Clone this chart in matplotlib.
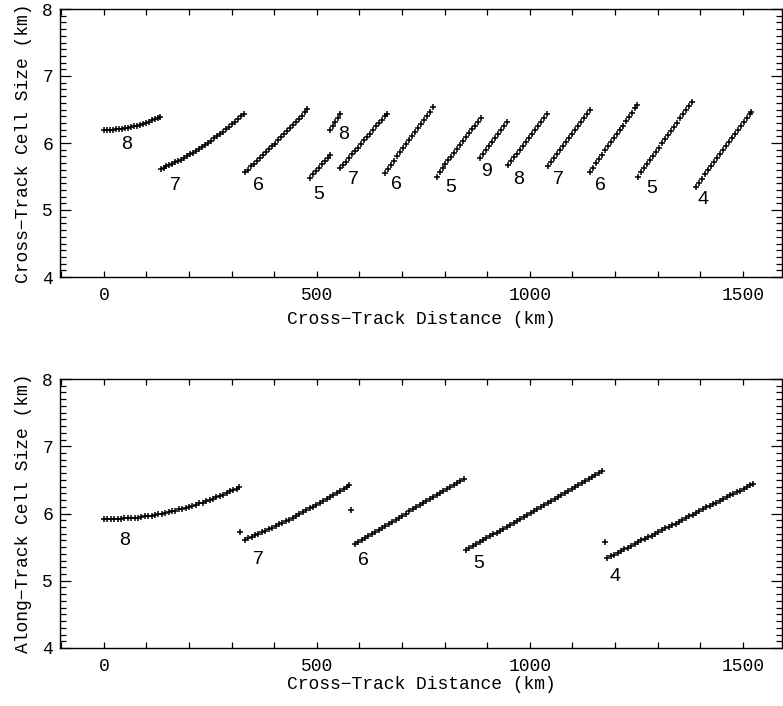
import matplotlib
matplotlib.use("Agg")
import matplotlib.pyplot as plt
from matplotlib.ticker import MultipleLocator

# ---- top panel: cross-track cell size, one segment per beam group ----
t8a_x = [0, 7, 14, 21, 28, 35, 42, 49, 56, 63, 70, 77, 84, 91, 98, 105, 112, 119, 126, 131]
t8a_y = [6.20, 6.20, 6.20, 6.20, 6.21, 6.21, 6.21, 6.22, 6.23, 6.24, 6.25, 6.26, 6.27, 6.29,
         6.30, 6.32, 6.34, 6.36, 6.38, 6.39]
t7a_x = [133, 140, 147, 154, 161, 168, 175, 182, 189, 196, 203, 210, 217, 224, 231, 238, 245,
         252, 259, 266, 273, 280, 287, 294, 301, 308, 315, 322, 329]
t7a_y = [5.61, 5.63, 5.65, 5.67, 5.69, 5.71, 5.73, 5.75, 5.78, 5.80, 5.83, 5.85, 5.88, 5.91,
         5.94, 5.97, 6.00, 6.03, 6.07, 6.10, 6.13, 6.17, 6.21, 6.24, 6.28, 6.32, 6.36, 6.40, 6.44]
t6a_x = [331, 338, 345, 352, 359, 366, 373, 380, 387, 394, 401, 408, 415, 422, 429, 436, 443,
         450, 457, 464, 471, 478]
t6a_y = [5.56, 5.60, 5.65, 5.69, 5.73, 5.77, 5.82, 5.86, 5.91, 5.95, 5.99, 6.04, 6.09, 6.13,
         6.18, 6.22, 6.27, 6.32, 6.36, 6.41, 6.46, 6.51]
t5a_x = [484, 491, 498, 505, 512, 519, 526, 532]
t5a_y = [5.48, 5.53, 5.58, 5.63, 5.68, 5.73, 5.78, 5.82]
t8b_x = [531, 537, 543, 549, 554]
t8b_y = [6.19, 6.25, 6.31, 6.37, 6.43]
t7b_x = [554, 561, 568, 575, 582, 589, 596, 603, 610, 617, 624, 631, 638, 645, 652, 659, 664]
t7b_y = [5.62, 5.67, 5.72, 5.78, 5.83, 5.88, 5.93, 5.99, 6.04, 6.09, 6.14, 6.19, 6.25, 6.30,
         6.35, 6.40, 6.44]
t6b_x = [660, 667, 674, 681, 688, 695, 702, 709, 716, 723, 730, 737, 744, 751, 758, 765, 772]
t6b_y = [5.55, 5.61, 5.67, 5.73, 5.80, 5.86, 5.92, 5.98, 6.04, 6.10, 6.16, 6.22, 6.29, 6.35,
         6.41, 6.47, 6.53]
t5b_x = [781, 788, 795, 802, 809, 816, 823, 830, 837, 844, 851, 858, 865, 872, 879, 886]
t5b_y = [5.50, 5.56, 5.62, 5.68, 5.74, 5.79, 5.85, 5.91, 5.97, 6.03, 6.09, 6.15, 6.21, 6.26,
         6.32, 6.38]
t9_x = [883, 890, 897, 904, 911, 918, 925, 932, 939, 946]
t9_y = [5.77, 5.83, 5.89, 5.95, 6.01, 6.07, 6.13, 6.19, 6.25, 6.31]
t8c_x = [949, 956, 963, 970, 977, 984, 991, 998, 1005, 1012, 1019, 1026, 1033, 1040]
t8c_y = [5.67, 5.73, 5.79, 5.84, 5.90, 5.96, 6.02, 6.08, 6.14, 6.20, 6.25, 6.31, 6.37, 6.43]
t7c_x = [1043, 1050, 1057, 1064, 1071, 1078, 1085, 1092, 1099, 1106, 1113, 1120, 1127, 1134, 1141]
t7c_y = [5.65, 5.71, 5.77, 5.83, 5.89, 5.95, 6.01, 6.07, 6.13, 6.19, 6.25, 6.31, 6.37, 6.43, 6.49]
t6c_x = [1141, 1148, 1155, 1162, 1169, 1176, 1183, 1190, 1197, 1204, 1211, 1218, 1225, 1232,
         1239, 1246, 1252]
t6c_y = [5.57, 5.63, 5.70, 5.76, 5.82, 5.89, 5.95, 6.01, 6.07, 6.14, 6.20, 6.26, 6.33, 6.39,
         6.45, 6.52, 6.57]
t5c_x = [1254, 1261, 1268, 1275, 1282, 1289, 1296, 1303, 1310, 1317, 1324, 1331, 1338, 1345,
         1352, 1359, 1366, 1373, 1380]
t5c_y = [5.50, 5.56, 5.62, 5.69, 5.75, 5.81, 5.87, 5.93, 6.00, 6.06, 6.12, 6.18, 6.24, 6.30,
         6.37, 6.43, 6.49, 6.55, 6.61]
t4_x = [1390, 1397, 1404, 1411, 1418, 1425, 1432, 1439, 1446, 1453, 1460, 1467, 1474, 1481,
        1488, 1495, 1502, 1509, 1516, 1520]
t4_y = [5.35, 5.41, 5.47, 5.53, 5.59, 5.65, 5.71, 5.77, 5.83, 5.89, 5.95, 6.01, 6.07, 6.13,
        6.19, 6.25, 6.31, 6.38, 6.44, 6.47]

top_labels = ["8", "7", "6", "5", "8", "7", "6", "5", "9", "8", "7", "6", "5", "4"]
top_lab_x = [54, 167, 364, 505, 562, 585, 688, 813, 899, 974, 1067, 1166, 1285, 1407]
top_lab_y = [5.98, 5.37, 5.36, 5.23, 6.13, 5.46, 5.38, 5.33, 5.58, 5.45, 5.46, 5.36, 5.32, 5.15]

# ---- bottom panel: along-track cell size ----
b8_x = [0, 8, 16, 24, 32, 40, 48, 56, 64, 72, 80, 88, 96, 104, 112, 120, 128, 136, 144, 152,
        160, 168, 176, 184, 192, 200, 208, 216, 224, 232, 240, 248, 256, 264, 272, 280, 288,
        296, 304, 312, 318]
b8_y = [5.92, 5.92, 5.92, 5.92, 5.92, 5.92, 5.93, 5.93, 5.93, 5.94, 5.94, 5.95, 5.96, 5.96,
        5.97, 5.98, 5.99, 6.00, 6.01, 6.02, 6.03, 6.04, 6.06, 6.07, 6.08, 6.10, 6.11, 6.13,
        6.15, 6.16, 6.18, 6.20, 6.22, 6.24, 6.26, 6.28, 6.30, 6.33, 6.35, 6.37, 6.39]
b7_x = [331, 339, 347, 355, 363, 371, 379, 387, 395, 403, 411, 419, 427, 435, 443, 451, 459,
        467, 475, 483, 491, 499, 507, 515, 523, 531, 539, 547, 555, 563, 571, 576]
b7_y = [5.61, 5.63, 5.65, 5.68, 5.70, 5.72, 5.74, 5.77, 5.79, 5.81, 5.84, 5.86, 5.89, 5.91,
        5.94, 5.97, 5.99, 6.02, 6.05, 6.08, 6.10, 6.13, 6.16, 6.19, 6.22, 6.25, 6.28, 6.31,
        6.34, 6.37, 6.40, 6.42]
b6_x = [589, 597, 605, 613, 621, 629, 637, 645, 653, 661, 669, 677, 685, 693, 701, 709, 717,
        725, 733, 741, 749, 757, 765, 773, 781, 789, 797, 805, 813, 821, 829, 837, 845]
b6_y = [5.55, 5.58, 5.61, 5.64, 5.67, 5.70, 5.73, 5.76, 5.79, 5.82, 5.85, 5.88, 5.91, 5.94,
        5.97, 6.00, 6.03, 6.06, 6.09, 6.12, 6.15, 6.18, 6.21, 6.24, 6.27, 6.30, 6.33, 6.36,
        6.39, 6.42, 6.45, 6.48, 6.51]
b5_x = [850, 858, 866, 874, 882, 890, 898, 906, 914, 922, 930, 938, 946, 954, 962, 970, 978,
        986, 994, 1002, 1010, 1018, 1026, 1034, 1042, 1050, 1058, 1066, 1074, 1082, 1090, 1098,
        1106, 1114, 1122, 1130, 1138, 1146, 1154, 1162, 1170]
b5_y = [5.45, 5.48, 5.51, 5.54, 5.57, 5.60, 5.63, 5.66, 5.69, 5.71, 5.74, 5.77, 5.80, 5.83,
        5.86, 5.89, 5.92, 5.95, 5.98, 6.01, 6.04, 6.07, 6.10, 6.13, 6.16, 6.18, 6.21, 6.24,
        6.27, 6.30, 6.33, 6.36, 6.39, 6.42, 6.45, 6.48, 6.51, 6.54, 6.57, 6.60, 6.63]
b4_x = [1182, 1190, 1198, 1206, 1214, 1222, 1230, 1238, 1246, 1254, 1262, 1270, 1278, 1286,
        1294, 1302, 1310, 1318, 1326, 1334, 1342, 1350, 1358, 1366, 1374, 1382, 1390, 1398,
        1406, 1414, 1422, 1430, 1438, 1446, 1454, 1462, 1470, 1478, 1486, 1494, 1502, 1510,
        1518, 1524]
b4_y = [5.34, 5.37, 5.39, 5.42, 5.44, 5.47, 5.49, 5.52, 5.55, 5.57, 5.60, 5.62, 5.65, 5.67,
        5.70, 5.73, 5.75, 5.78, 5.80, 5.83, 5.85, 5.88, 5.91, 5.93, 5.96, 5.98, 6.01, 6.03,
        6.06, 6.09, 6.11, 6.14, 6.16, 6.19, 6.21, 6.24, 6.27, 6.29, 6.32, 6.34, 6.37, 6.39,
        6.42, 6.44]
odd_x = [319, 581, 1176]
odd_y = [5.72, 6.05, 5.57]

bot_labels = ["8", "7", "6", "5", "4"]
bot_lab_x = [49, 362, 609, 881, 1200]
bot_lab_y = [5.60, 5.32, 5.30, 5.25, 5.07]

top_segs = [(t8a_x, t8a_y), (t7a_x, t7a_y), (t6a_x, t6a_y), (t5a_x, t5a_y), (t8b_x, t8b_y),
            (t7b_x, t7b_y), (t6b_x, t6b_y), (t5b_x, t5b_y), (t9_x, t9_y), (t8c_x, t8c_y),
            (t7c_x, t7c_y), (t6c_x, t6c_y), (t5c_x, t5c_y), (t4_x, t4_y)]
bot_segs = [(b8_x, b8_y), (b7_x, b7_y), (b6_x, b6_y), (b5_x, b5_y), (b4_x, b4_y), (odd_x, odd_y)]

axfont = ["Liberation Mono", "DejaVu Sans Mono"]
numfont = "Liberation Sans"

fig = plt.figure(figsize=(7.83, 7.06), dpi=100)
ax1 = fig.add_axes([60 / 783, 1 - 277 / 706, 722 / 783, 268 / 706])
ax2 = fig.add_axes([60 / 783, 1 - 648 / 706, 722 / 783, 269 / 706])


def style(ax, ylabel, xlab_y):
    ax.set_xlim(-103, 1592)
    ax.set_ylim(4, 8)
    ax.xaxis.set_major_locator(MultipleLocator(500))
    ax.xaxis.set_minor_locator(MultipleLocator(100))
    ax.yaxis.set_major_locator(MultipleLocator(1))
    ax.yaxis.set_minor_locator(MultipleLocator(0.1))
    ax.tick_params(which="both", direction="in", top=True, right=True, width=0.9)
    ax.tick_params(axis="x", which="both", length=4, pad=7)
    ax.tick_params(axis="y", which="major", length=8, pad=5)
    ax.tick_params(axis="y", which="minor", length=4)
    for lab in ax.get_xticklabels() + ax.get_yticklabels():
        lab.set_family(axfont)
        lab.set_fontsize(13)
    for s in ax.spines.values():
        s.set_linewidth(1.0)
    ax.set_xlabel("Cross\u2212Track Distance (km)", family=axfont, fontsize=13, va="center")
    ax.xaxis.set_label_coords(0.5, xlab_y)
    ax.set_ylabel(ylabel, family=axfont, fontsize=13, va="center")
    ax.yaxis.set_label_coords(-0.051, 0.5)


for sx, sy in top_segs:
    ax1.plot(sx, sy, ls="none", marker="+", ms=5, mew=1.1, color="black")
for t, x, y in zip(top_labels, top_lab_x, top_lab_y):
    ax1.text(x, y, t, family=numfont, fontsize=14, ha="center", va="center")

for sx, sy in bot_segs:
    ax2.plot(sx, sy, ls="none", marker="+", ms=5, mew=1.1, color="black")
for t, x, y in zip(bot_labels, bot_lab_x, bot_lab_y):
    ax2.text(x, y, t, family=numfont, fontsize=14, ha="center", va="center")

style(ax1, "Cross\u2212Track Cell Size (km)", -0.160)
style(ax2, "Along\u2212Track Cell Size (km)", -0.134)

fig.savefig("out.png", dpi=100)
